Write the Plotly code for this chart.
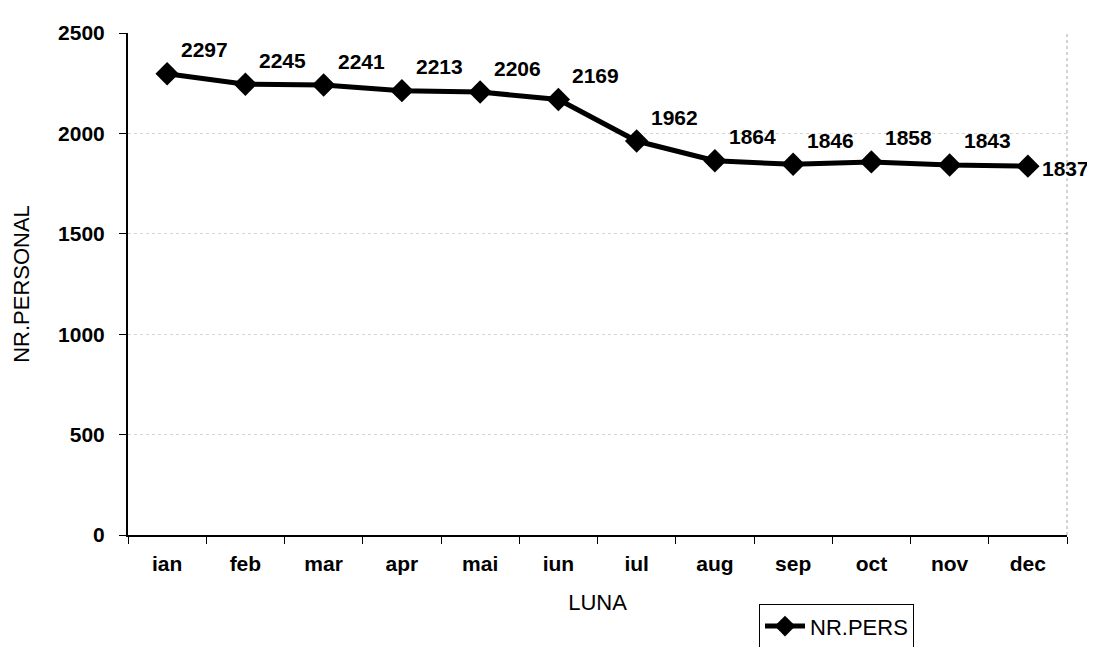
import plotly.graph_objects as go

months = ["ian", "feb", "mar", "apr", "mai", "iun", "iul", "aug", "sep", "oct", "nov", "dec"]
nr_pers = [2297, 2245, 2241, 2213, 2206, 2169, 1962, 1864, 1846, 1858, 1843, 1837]
y_ticks = [0, 500, 1000, 1500, 2000, 2500]

FONT = "Liberation Sans, Arial, sans-serif"

fig = go.Figure()
fig.add_trace(go.Scatter(
    x=months, y=nr_pers, mode="lines+markers", name="NR.PERS",
    line=dict(color="black", width=5),
    marker=dict(symbol="diamond", size=18, color="black"),
    cliponaxis=False,
))

n = len(months)
for i, (m, v) in enumerate(zip(months, nr_pers)):
    last = i == n - 1
    fig.add_annotation(
        x=m, y=v, text=str(v), showarrow=False,
        xanchor="left", yanchor="middle",
        xshift=12, yshift=-2 if last else 24,
        font=dict(family=FONT, size=21, color="black", weight="bold"),
    )

# right border (dotted, like the chart frame)
fig.add_shape(type="line", xref="paper", yref="paper", x0=1, x1=1, y0=0, y1=1,
              line=dict(color="#a8a8a8", width=1, dash="dot"))

fig.update_layout(
    template="none",
    width=1095, height=647,
    margin=dict(l=120, r=36, t=25, b=120, autoexpand=False),
    paper_bgcolor="white", plot_bgcolor="white",
    font=dict(family=FONT, color="black"),
    showlegend=True,
    legend=dict(
        x=0.672, y=-0.138, xanchor="left", yanchor="top",
        bordercolor="black", borderwidth=1, bgcolor="white",
        font=dict(family=FONT, size=22, color="black"),
        itemwidth=40,
    ),
    xaxis=dict(
        type="category", tickson="boundaries", automargin=False,
        range=[-0.5, len(months) - 0.5],
        showline=True, linecolor="black", linewidth=2,
        ticks="outside", ticklen=7, tickcolor="black", tickwidth=1,
        showgrid=False, zeroline=False,
        tickfont=dict(family=FONT, size=21, color="black", weight="bold"),
        ticklabelstandoff=9,
        title=dict(text="LUNA", font=dict(family=FONT, size=22, color="black"), standoff=20),
    ),
    yaxis=dict(
        range=[0, 2500], tickvals=y_ticks, automargin=False,
        showline=True, linecolor="black", linewidth=2,
        ticks="outside", ticklen=7, tickcolor="black", tickwidth=1,
        showgrid=True, gridcolor="#d4d4d4", griddash="dot", gridwidth=1,
        zeroline=False,
        tickfont=dict(family=FONT, size=21, color="black", weight="bold"),
        ticklabelstandoff=10,
        title=dict(text="NR.PERSONAL", font=dict(family=FONT, size=22, color="black"), standoff=22),
    ),
)

fig.write_html("out.html")
